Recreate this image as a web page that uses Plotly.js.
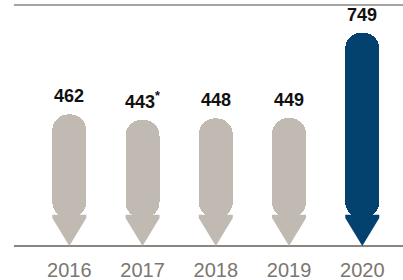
<!DOCTYPE html>
<html>
<head>
<meta charset="utf-8">
<script src="https://cdn.plot.ly/plotly-3.0.1.min.js"></script>
<style>html,body{margin:0;padding:0;background:#fff;}#chart{width:403px;height:280px;}</style>
</head>
<body>
<div id="chart"></div>
<script>
// Data
const years = ["2016", "2017", "2018", "2019", "2020"];
const values = [462, 443, 448, 449, 749];
const notes = ["", "*", "", "", ""];

// Styles
const GRAY = "#c0bab3";
const BLUE = "#03416f";
const highlight = years.map((y, i) => i === years.length - 1);
const barColors = highlight.map(h => h ? BLUE : GRAY);
const BAR_W = 0.464;   // bar width in category units
const TIP = 98;        // height of the pointed bottom, in value units
const OVERLAP = 12;    // pointed part reaches a little into the bar to avoid a seam

const bars = {
  type: "bar",
  x: years,
  y: values.map(v => v - TIP),
  base: values.map(() => TIP),
  width: BAR_W,
  marker: {color: barColors, cornerradius: "50%", line: {width: 0}},
  hoverinfo: "skip",
  showlegend: false
};

// pointed bottoms, built from the bar positions (category index) and TIP
function tipTrace(keep, color) {
  const xs = [], ys = [];
  years.forEach((y, i) => {
    if (highlight[i] !== keep) return;
    const hw = BAR_W / 2;
    xs.push(i - hw, i - hw, i, i + hw, i + hw, null);
    ys.push(TIP + OVERLAP, TIP, 0, TIP, TIP + OVERLAP, null);
  });
  return {
    type: "scatter", mode: "lines", xaxis: "x2", yaxis: "y",
    x: xs, y: ys, fill: "toself", fillcolor: color,
    line: {width: 0, color: color}, connectgaps: false,
    hoverinfo: "skip", showlegend: false
  };
}

const annotations = years.map((y, i) => ({
  x: i, y: values[i], xref: "x", yref: "y",
  text: String(values[i]) + (notes[i] ? "<sup>" + notes[i] + "</sup>" : ""),
  showarrow: false, yanchor: "bottom", yshift: 6,
  font: {family: "Liberation Sans, Arial, sans-serif", size: 18, color: "#111111", weight: 700}
}));

const X_RANGE = [-0.755, 4.556];

const layout = {
  width: 403, height: 280,
  margin: {l: 14, r: 0, t: 5, b: 34},
  paper_bgcolor: "#ffffff", plot_bgcolor: "#ffffff",
  xaxis: {
    type: "category", range: X_RANGE,
    showgrid: false, zeroline: false, showline: false, ticks: "",
    tickfont: {family: "Liberation Sans, Arial, sans-serif", size: 20, color: "#7b766f"},
    ticklabelstandoff: 10, fixedrange: true
  },
  xaxis2: {type: "linear", range: X_RANGE, overlaying: "x", anchor: "y", visible: false, fixedrange: true},
  yaxis: {range: [0, 846], visible: false, fixedrange: true},
  shapes: [
    {type: "line", xref: "paper", yref: "paper", x0: 0, x1: 1, y0: 1, y1: 1, line: {color: "#8a857e", width: 1.5}},
    {type: "line", xref: "paper", yref: "paper", x0: 0, x1: 1, y0: 0, y1: 0, line: {color: "#8a857e", width: 2}, layer: "below"}
  ],
  annotations: annotations,
  bargap: 0
};

Plotly.newPlot("chart", [bars, tipTrace(false, GRAY), tipTrace(true, BLUE)], layout, {displayModeBar: false, staticPlot: true});
</script>
</body>
</html>
